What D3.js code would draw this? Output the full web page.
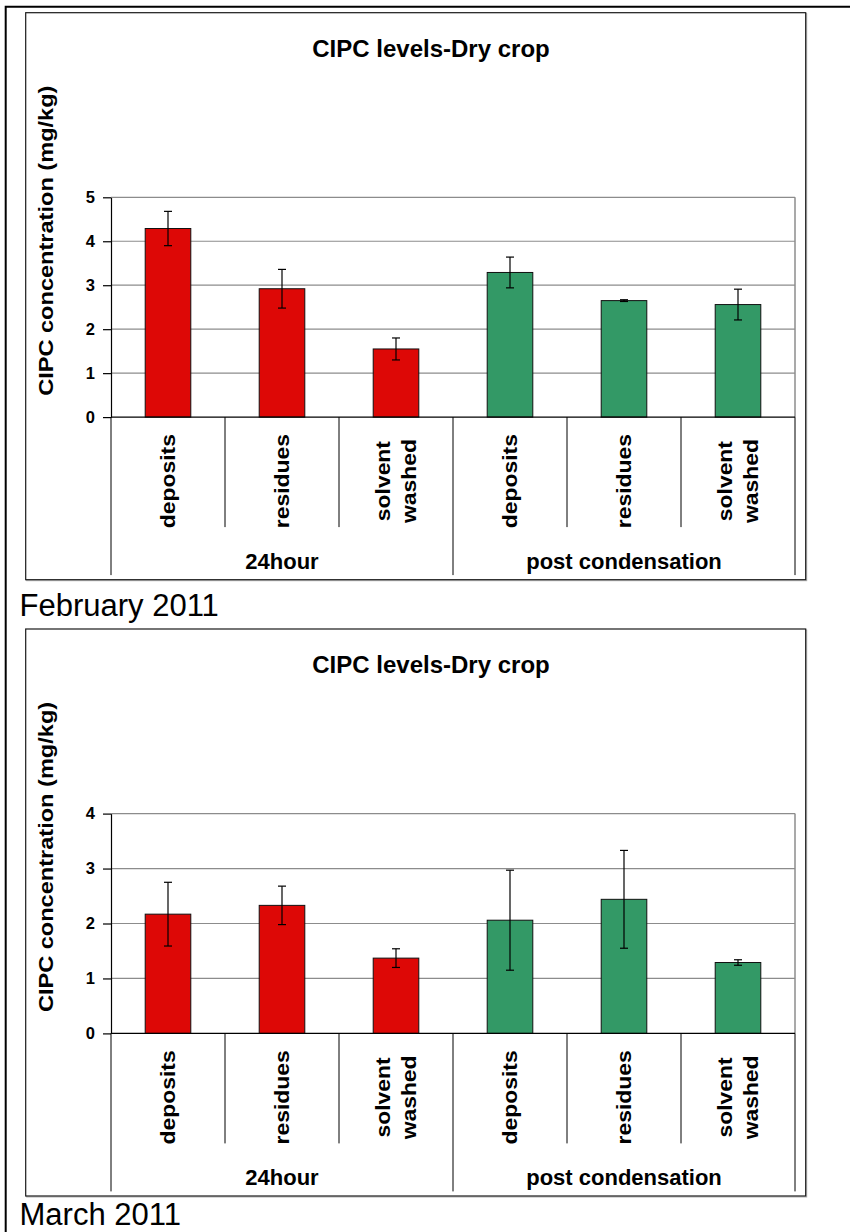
<!DOCTYPE html>
<html>
<head>
<meta charset="utf-8">
<script src="https://cdn.jsdelivr.net/npm/d3@7"></script>
<style>
  body { margin: 0; background: #fff; }
  svg { display: block; }
  text { font-family: "Liberation Sans", Arial, sans-serif; fill: #000; }
</style>
</head>
<body>
<script>
// ---- data ----
const categories = [["deposits"], ["residues"], ["solvent", "washed"],
                    ["deposits"], ["residues"], ["solvent", "washed"]];
const groups = ["24hour", "post condensation"];
const groupColors = ["#dd0806", "#339966"];
const chartTitle = "CIPC levels-Dry crop";
const yAxisTitle = "CIPC concentration (mg/kg)";

const febValues = [4.29, 2.92, 1.55, 3.29, 2.65, 2.56];
const febErrors = [0.39, 0.44, 0.25, 0.35, 0.02, 0.35];
const febTicks  = [0, 1, 2, 3, 4, 5];

const marValues = [2.17, 2.33, 1.37, 2.06, 2.44, 1.29];
const marErrors = [0.58, 0.35, 0.17, 0.91, 0.89, 0.05];
const marTicks  = [0, 1, 2, 3, 4];

const months = ["February 2011", "March 2011"];

// ---- layout ----
const W = 850, H = 1232;
const svg = d3.select("body").append("svg").attr("width", W).attr("height", H);

// page border (left and top rules)
svg.append("path")
  .attr("d", `M5.7,${H} V6.7 H${W}`)
  .attr("fill", "none").attr("stroke", "#000").attr("stroke-width", 2);

const panels = [
  { top: 12.7, values: febValues, errors: febErrors, ticks: febTicks, month: months[0], captionY: 616 },
  { top: 629,  values: marValues, errors: marErrors, ticks: marTicks, month: months[1], captionY: 1224.5 }
];

const frameLeft = 25.7, frameWidth = 780, frameHeight = 567;
const plotLeft = 111, plotRight = 795;

panels.forEach(p => {
  const g = svg.append("g");
  const plotTop = p.top + 184.6, plotBottom = p.top + 404.4;

  // chart frame with a faint shadow
  g.append("rect")
    .attr("x", frameLeft + 1).attr("y", p.top + 1)
    .attr("width", frameWidth).attr("height", frameHeight)
    .attr("fill", "none").attr("stroke", "#b0b0b0").attr("stroke-width", 1);
  g.append("rect")
    .attr("x", frameLeft).attr("y", p.top)
    .attr("width", frameWidth).attr("height", frameHeight)
    .attr("fill", "#fff").attr("stroke", "#1a1a1a").attr("stroke-width", 1.2);

  // title
  g.append("text")
    .attr("x", 431).attr("y", p.top + 44)
    .attr("text-anchor", "middle")
    .style("font-size", "24px").style("font-weight", "bold")
    .text(chartTitle);

  const y = d3.scaleLinear().domain([0, d3.max(p.ticks)]).range([plotBottom, plotTop]);
  const x = d3.scaleBand().domain(d3.range(categories.length)).range([plotLeft, plotRight]).padding(0);
  const bw = x.bandwidth();

  // gridlines
  g.append("g").selectAll("line")
    .data(p.ticks.filter(t => t > 0))
    .join("line")
    .attr("x1", plotLeft).attr("x2", plotRight)
    .attr("y1", d => y(d)).attr("y2", d => y(d))
    .attr("stroke", "#8c8c8c").attr("stroke-width", 1.2);

  // plot area border (right side)
  g.append("line")
    .attr("x1", plotRight).attr("x2", plotRight)
    .attr("y1", plotTop).attr("y2", plotBottom)
    .attr("stroke", "#8c8c8c").attr("stroke-width", 1.5);

  // bars
  g.append("g").selectAll("rect")
    .data(p.values)
    .join("rect")
    .attr("x", (d, i) => x(i) + bw * 0.3)
    .attr("width", bw * 0.4)
    .attr("y", d => y(d))
    .attr("height", d => plotBottom - y(d))
    .attr("fill", (d, i) => groupColors[i < 3 ? 0 : 1])
    .attr("stroke", "#111").attr("stroke-width", 1);

  // error bars
  const eb = g.append("g").attr("stroke", "#000").attr("stroke-width", 1.2);
  p.values.forEach((v, i) => {
    const cx = x(i) + bw / 2, e = p.errors[i];
    eb.append("line").attr("x1", cx).attr("x2", cx).attr("y1", y(v + e)).attr("y2", y(v - e));
    eb.append("line").attr("x1", cx - 4).attr("x2", cx + 4).attr("y1", y(v + e)).attr("y2", y(v + e));
    eb.append("line").attr("x1", cx - 4).attr("x2", cx + 4).attr("y1", y(v - e)).attr("y2", y(v - e));
  });

  // y axis
  const yAxis = g.append("g")
    .attr("transform", `translate(${plotLeft},0)`)
    .call(d3.axisLeft(y).tickValues(p.ticks).tickFormat(d3.format("d")).tickSize(8).tickPadding(8).tickSizeOuter(0));
  yAxis.select(".domain").attr("stroke", "#000").attr("stroke-width", 1.2);
  yAxis.selectAll(".tick line").attr("stroke", "#000").attr("stroke-width", 1.2);
  yAxis.selectAll(".tick text")
    .style("font-size", "16.5px").style("font-weight", "bold")
    .style("font-family", "'Liberation Sans', Arial, sans-serif");

  // x axis line
  g.append("line")
    .attr("x1", plotLeft).attr("x2", plotRight)
    .attr("y1", plotBottom).attr("y2", plotBottom)
    .attr("stroke", "#000").attr("stroke-width", 1.2);

  // category / group dividers
  g.append("g").selectAll("line")
    .data(d3.range(categories.length + 1))
    .join("line")
    .attr("x1", i => plotLeft + i * bw).attr("x2", i => plotLeft + i * bw)
    .attr("y1", plotBottom)
    .attr("y2", i => plotBottom + (i % 3 === 0 ? 158 : 110))
    .attr("stroke", "#000").attr("stroke-width", 1);

  // rotated category labels
  categories.forEach((lines, i) => {
    const cx = x(i) + bw / 2;
    const t = g.append("g")
      .attr("transform", `translate(${cx},${plotBottom + 64}) rotate(-90) scale(1.09,1)`)
      .append("text")
      .attr("text-anchor", "middle")
      .style("font-size", "21px").style("font-weight", "bold");
    lines.forEach((ln, j) => {
      t.append("tspan")
        .attr("x", 0)
        .attr("y", (j - (lines.length - 1) / 2) * 27 + 7)
        .text(ln);
    });
  });

  // group labels
  groups.forEach((gName, k) => {
    g.append("text")
      .attr("x", plotLeft + (k * 3 + 1.5) * bw)
      .attr("y", plotBottom + 151.7)
      .attr("text-anchor", "middle")
      .style("font-size", "22px").style("font-weight", "bold")
      .text(gName);
  });

  // y axis title
  g.append("g")
    .attr("transform", `translate(53,${p.top + 228}) rotate(-90) scale(1.15,1)`)
    .append("text")
    .attr("text-anchor", "middle")
    .style("font-size", "20.5px").style("font-weight", "bold")
    .text(yAxisTitle);

  // month caption below the chart
  svg.append("text")
    .attr("x", 19.5).attr("y", p.captionY)
    .style("font-size", "31px")
    .text(p.month);
});
</script>
</body>
</html>
